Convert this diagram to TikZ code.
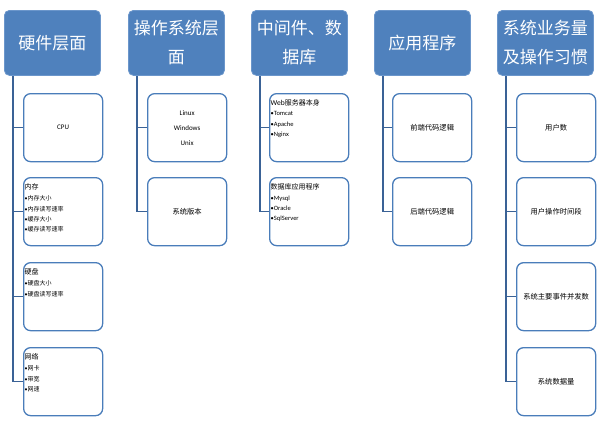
\documentclass[tikz,border=0pt]{standalone}
\usepackage{fontspec}
\setmainfont{Noto Sans CJK SC}
\newfontfamily\lat{Carlito}
\newcommand{\bul}{{\lat •}}
\definecolor{hfill}{HTML}{4F81BD}
\definecolor{hline}{HTML}{6B96CB}
\definecolor{cline}{HTML}{4A7DBA}
\definecolor{lline}{HTML}{3A6296}
\tikzset{
  head/.style={rounded corners=5pt, fill=hfill, draw=hline, line width=0.8pt,
    minimum width=96pt, minimum height=65pt, text=white, align=center,
    font=\fontsize{17}{29}\selectfont, anchor=north west, inner sep=0pt},
  child/.style={rounded corners=7pt, draw=cline, line width=1.3pt, fill=white,
    minimum width=79pt, minimum height=68pt, anchor=north west, inner sep=0pt,
    align=center, font=\fontsize{7.3}{15}\selectfont},
  conn/.style={draw=lline, line width=1.4pt},
  ttl/.style={anchor=west, inner sep=0pt, font=\fontsize{7}{8}\selectfont},
  items/.style={anchor=north west, inner sep=0pt, align=left, font=\fontsize{6}{10.3}\selectfont},
  small/.style={font=\lat\fontsize{7}{15}\selectfont}
}
\begin{document}
\begin{tikzpicture}[x=1pt,y=-1pt]
\useasboundingbox (0,0) rectangle (602,423);
% headers
\node[head] (h1) at (4,10) {硬件层面};
\node[head] (h2) at (128,10) {操作系统层\\面};
\node[head] (h3) at (251,10) {中间件、数\\据库};
\node[head] (h4) at (374,10) {应用程序};
\node[head] (h5) at (497,10) {系统业务量\\及操作习惯};
% column 1
\node[child,small] (c1a) at (23,93) {CPU};
\node[child] (c1b) at (23,177) {};
\node[child] (c1c) at (23,262) {};
\node[child] (c1d) at (23,347) {};
\node[ttl] (t1b) at (24.5,186.5) {内存};
\node[items] (i1b) at (24.5,195.5) {\bul 内存大小\\\bul 内存读写速率\\\bul 缓存大小\\\bul 缓存读写速率};
\node[ttl] (t1c) at (24.5,271.5) {硬盘};
\node[items] (i1c) at (24.5,280.5) {\bul 硬盘大小\\\bul 硬盘读写速率};
\node[ttl] (t1d) at (24.5,356.5) {网络};
\node[items] (i1d) at (24.5,365.5) {\bul 网卡\\\bul 带宽\\\bul 网速};
% column 2
\node[child,small] (c2a) at (147,93) {Linux\\Windows\\Unix};
\node[child] (c2b) at (147,177) {系统版本};
% column 3
\node[child] (c3a) at (269,93) {};
\node[child] (c3b) at (269,177) {};
\node[ttl] (t3a) at (270.5,102.5) {{\lat\fontsize{7.5}{8}\selectfont Web}服务器本身};
\node[items,font=\lat\fontsize{6.5}{10.3}\selectfont] (i3a) at (270.5,111.5) {•Tomcat\\•Apache\\•Nginx};
\node[ttl] (t3b) at (270.5,186.5) {数据库应用程序};
\node[items,font=\lat\fontsize{6.5}{10.3}\selectfont] (i3b) at (270.5,195.5) {•Mysql\\•Oracle\\•SqlServer};
% column 4
\node[child] (c4a) at (392,93) {前端代码逻辑};
\node[child] (c4b) at (392,177) {后端代码逻辑};
% column 5
\node[child] (c5a) at (516,93) {用户数};
\node[child] (c5b) at (516,177) {用户操作时间段};
\node[child] (c5c) at (516,262) {系统主要事件并发数};
\node[child] (c5d) at (516,347) {系统数据量};
% connectors
\coordinate (v1) at ([xshift=9pt]h1.south west);
\coordinate (v2) at ([xshift=9pt]h2.south west);
\coordinate (v3) at ([xshift=9pt]h3.south west);
\coordinate (v4) at ([xshift=9pt]h4.south west);
\coordinate (v5) at ([xshift=9pt]h5.south west);
\draw[conn] (v1) |- (c1d.west);
\draw[conn] (v1 |- c1a.west) -- (c1a.west);
\draw[conn] (v1 |- c1b.west) -- (c1b.west);
\draw[conn] (v1 |- c1c.west) -- (c1c.west);
\draw[conn] (v2) |- (c2b.west);
\draw[conn] (v2 |- c2a.west) -- (c2a.west);
\draw[conn] (v3) |- (c3b.west);
\draw[conn] (v3 |- c3a.west) -- (c3a.west);
\draw[conn] (v4) |- (c4b.west);
\draw[conn] (v4 |- c4a.west) -- (c4a.west);
\draw[conn] (v5) |- (c5d.west);
\draw[conn] (v5 |- c5a.west) -- (c5a.west);
\draw[conn] (v5 |- c5b.west) -- (c5b.west);
\draw[conn] (v5 |- c5c.west) -- (c5c.west);
\end{tikzpicture}
\end{document}
